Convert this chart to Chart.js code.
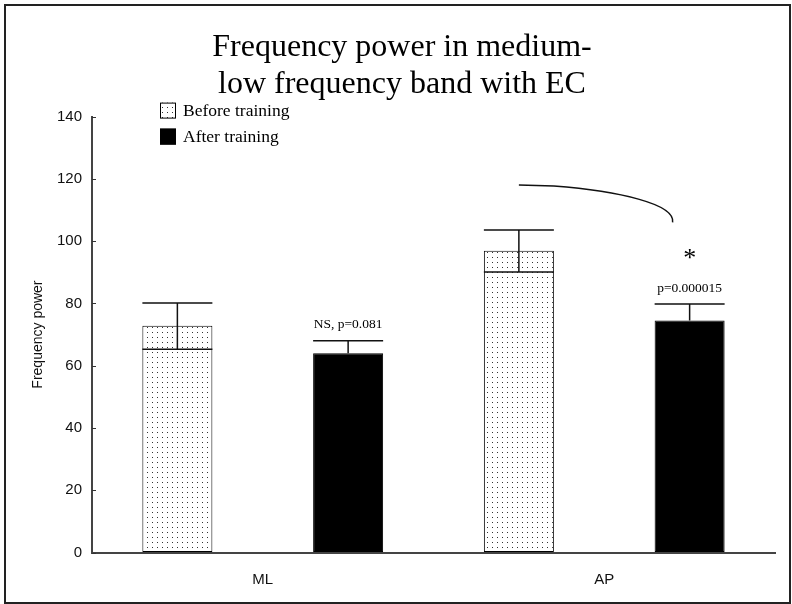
<!DOCTYPE html>
<html>
<head>
<meta charset="utf-8">
<script src="https://cdn.jsdelivr.net/npm/chart.js@4.4.0/dist/chart.umd.min.js"></script>
<style>
  html, body { margin: 0; padding: 0; background: #fff; }
  canvas { display: block; }
</style>
</head>
<body>
<canvas id="chart" width="792" height="604"></canvas>
<script>
// dados
const categories = ["ML", "AP"];
const beforeMean = [72.8, 96.9];
const beforeErr = [7.3, 6.7];
const beforeInner = [65.3, 90.1];   // linha interna que aparece nas barras pontilhadas
const afterMean = [64.0, 74.5];
const afterErr = [4.0, 5.3];
const pLabels = ["NS, p=0.081", "p=0.000015"];
const sigMarks = ["", "*"];
const bracketValues = [118, 106];    // inicio / fim da curva sobre AP

const SERIF = '"Liberation Serif", "Times New Roman", serif';
const SANS = '"Liberation Sans", Arial, sans-serif';

const canvas = document.getElementById("chart");
const ctx = canvas.getContext("2d");

function dotPattern() {
    const c = document.createElement("canvas");
    c.width = 5; c.height = 5;
    const g = c.getContext("2d");
    g.fillStyle = "#fff";
    g.fillRect(0, 0, 5, 5);
    g.fillStyle = "#333";
    g.fillRect(2, 2, 1, 1);
    return ctx.createPattern(c, "repeat");
}
const DOTS = dotPattern();

// moldura externa
const framePlugin = {
    id: "frame",
    beforeDraw(chart) {
        const c = chart.ctx;
        c.save();
        c.fillStyle = "#fff";
        c.fillRect(0, 0, chart.width, chart.height);
        c.strokeStyle = "#222";
        c.lineWidth = 2;
        c.strokeRect(5, 5, 785, 598);
        c.restore();
    }
};

// ticks para dentro no eixo y
const innerTicks = {
    id: "innerTicks",
    afterDraw(chart) {
        const y = chart.scales.y, left = chart.chartArea.left;
        const c = chart.ctx;
        c.save();
        c.strokeStyle = "#333";
        c.lineWidth = 1;
        y.ticks.forEach(t => {
            const py = Math.round(y.getPixelForValue(t.value)) + 0.5;
            c.beginPath();
            c.moveTo(left, py);
            c.lineTo(left + 4, py);
            c.stroke();
        });
        c.restore();
    }
};

// barras de erro, linha interna, textos e curva
const extras = {
    id: "extras",
    afterDatasetsDraw(chart) {
        const c = chart.ctx, y = chart.scales.y;
        const means = [beforeMean, afterMean];
        const errs = [beforeErr, afterErr];
        c.save();
        c.strokeStyle = "#111";
        c.lineWidth = 1.5;
        [0, 1].forEach(di => {
            chart.getDatasetMeta(di).data.forEach((el, j) => {
                const half = el.width / 2;
                const yCap = y.getPixelForValue(means[di][j] + errs[di][j]);
                const yLow = di === 0 ? y.getPixelForValue(beforeInner[j]) : el.y;
                c.beginPath();
                c.moveTo(el.x - half, yCap);
                c.lineTo(el.x + half, yCap);
                c.moveTo(el.x, yCap);
                c.lineTo(el.x, yLow);
                if (di === 0) {
                    c.moveTo(el.x - half, yLow);
                    c.lineTo(el.x + half, yLow);
                }
                c.stroke();

                if (di === 1) {
                    c.fillStyle = "#000";
                    c.textAlign = "center";
                    c.textBaseline = "middle";
                    c.font = "13.5px " + SERIF;
                    c.fillText(pLabels[j], el.x, yCap - 16);
                    if (sigMarks[j]) {
                        c.font = "26px " + SERIF;
                        c.fillText(sigMarks[j], el.x, yCap - 45);
                    }
                }
            });
        });

        // curva ligando as barras de AP
        const b = chart.getDatasetMeta(0).data[1];
        const a = chart.getDatasetMeta(1).data[1];
        const sx = b.x, sy = y.getPixelForValue(bracketValues[0]);
        const ex = a.x - 17, ey = y.getPixelForValue(bracketValues[1]);
        const mx = sx + 35;
        const dx = ex - mx, dy = ey - sy;
        c.beginPath();
        c.moveTo(sx, sy);
        c.lineTo(mx, sy + 1);
        c.bezierCurveTo(mx + 0.54 * dx, sy + 0.16 * dy, ex + 3, ey - 0.5 * dy, ex, ey);
        c.stroke();

        // legenda
        const L = chart.chartArea.left + 68, T = chart.chartArea.top - 14;
        chart.data.datasets.forEach((ds, i) => {
            const by = T + i * 26;
            c.fillStyle = ds.backgroundColor;
            c.fillRect(L, by, 16, 16);
            c.lineWidth = 1;
            c.strokeStyle = "#000";
            c.strokeRect(L + 0.5, by + 0.5, 15, 15);
            c.fillStyle = "#000";
            c.textAlign = "left";
            c.textBaseline = "middle";
            c.font = "17.5px " + SERIF;
            c.fillText(ds.label, L + 23, by + 9);
        });
        c.restore();
    }
};

new Chart(canvas, {
    type: "bar",
    data: {
        labels: categories,
        datasets: [
            { label: "Before training", data: beforeMean, backgroundColor: DOTS,
              borderColor: "#000", borderWidth: 1, borderSkipped: false },
            { label: "After training", data: afterMean, backgroundColor: "#000",
              borderColor: "#000", borderWidth: 1, borderSkipped: false }
        ]
    },
    options: {
        responsive: false,
        animation: false,
        layout: { padding: { left: 29, right: 17, top: 0, bottom: 0 } },
        datasets: { bar: { categoryPercentage: 1.0, barPercentage: 0.41 } },
        plugins: {
            legend: { display: false },
            tooltip: { enabled: false },
            title: {
                display: true,
                text: ["Frequency power in medium-", "low frequency band with EC"],
                color: "#000",
                font: { family: SERIF, size: 32, weight: "normal", lineHeight: 1.15 },
                padding: { top: 29, bottom: 14 }
            }
        },
        scales: {
            x: {
                grid: { drawOnChartArea: false, drawTicks: false },
                border: { color: "#444", width: 2 },
                ticks: { color: "#111", font: { family: SANS, size: 15 }, padding: 18 },
                afterFit(s) { s.height = 51.5; }
            },
            y: {
                min: 0, max: 140,
                grid: { drawOnChartArea: false, drawTicks: false },
                border: { color: "#444", width: 2 },
                ticks: { stepSize: 20, color: "#111", font: { family: SANS, size: 15 }, padding: 10 },
                title: { display: true, text: "Frequency power", color: "#111",
                         font: { family: SANS, size: 14 }, padding: { top: 1, bottom: 0 } },
                afterFit(s) { s.width = 63; }
            }
        }
    },
    plugins: [framePlugin, innerTicks, extras]
});
</script>
</body>
</html>
